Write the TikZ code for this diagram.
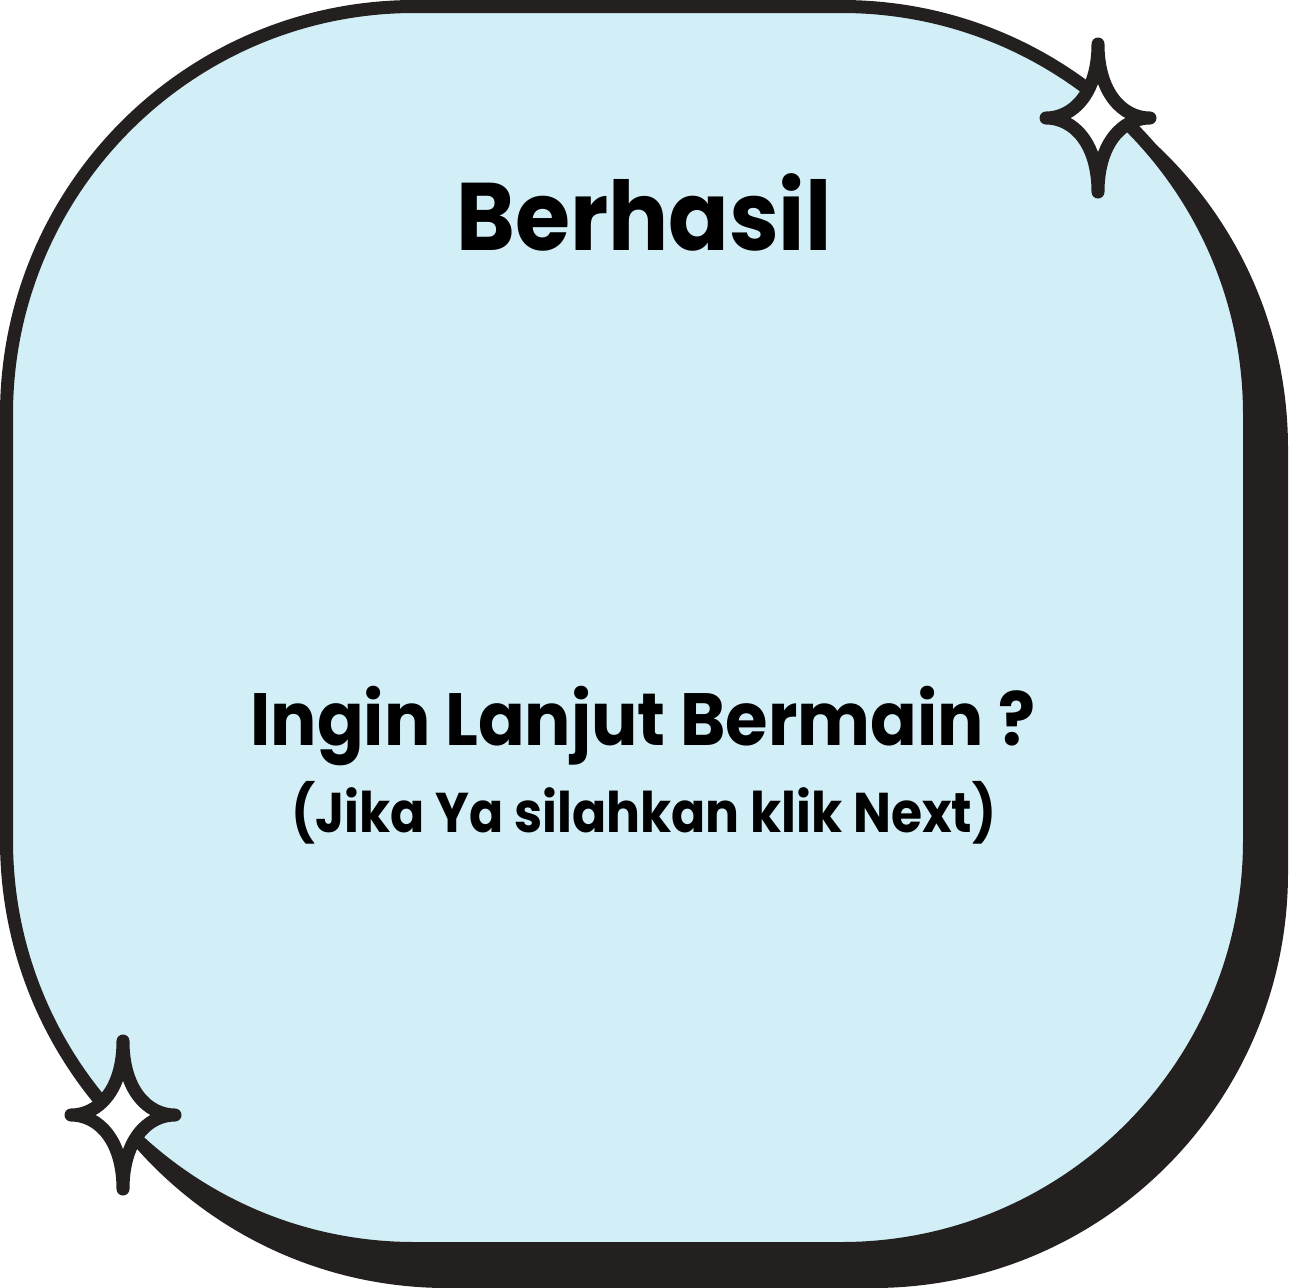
\documentclass[tikz,border=0pt]{standalone}
\usepackage{fontspec}
\setmainfont{Poppins}[FakeStretch=0.93]
\newfontfamily\narrowfont{Poppins}[FakeStretch=0.9]
\definecolor{boxblue}{RGB}{210,239,247}
\definecolor{ink}{RGB}{35,32,31}
\begin{document}
\begin{tikzpicture}[x=1pt,y=-1pt,
  shadowshape/.style={fill=ink, rounded corners=415pt},
  boxshape/.style={draw=ink, fill=boxblue, line width=13pt, rounded corners=408pt},
  sparkle/.style={draw=ink, fill=white, line width=13pt, line join=round, line cap=round},
  label/.style={text=black, inner sep=0pt, anchor=base},
  bigtext/.style={label, font=\fontsize{96}{110}\selectfont\bfseries},
  midtext/.style={label, font=\fontsize{74}{86}\selectfont\bfseries},
  smalltext/.style={label, font=\narrowfont\fontsize{56}{66}\selectfont\bfseries}]
\useasboundingbox (0,0) rectangle (1288,1288);
\fill[shadowshape] (32,33) rectangle (1288,1288);
\draw[boxshape] (6.5,6.5) rectangle (1249.5,1248.5);
\foreach \cx/\cy in {1098/118, 123/1115}{
  \draw[sparkle, shift={(\cx,\cy)}] (0,-74) .. controls (0,-26) and (24,0) .. (52,0)
    .. controls (24,0) and (0,26) .. (0,74)
    .. controls (0,26) and (-24,0) .. (-52,0)
    .. controls (-24,0) and (0,-26) .. (0,-74) -- cycle;
}
\node[bigtext] (title) at (644,250) {Berhasil};
\node[midtext] (question) at (643,745) {Ingin Lanjut Bermain ?};
\node[smalltext] (hint) at (644,832) {(Jika Ya silahkan klik Next)};
\end{tikzpicture}
\end{document}
